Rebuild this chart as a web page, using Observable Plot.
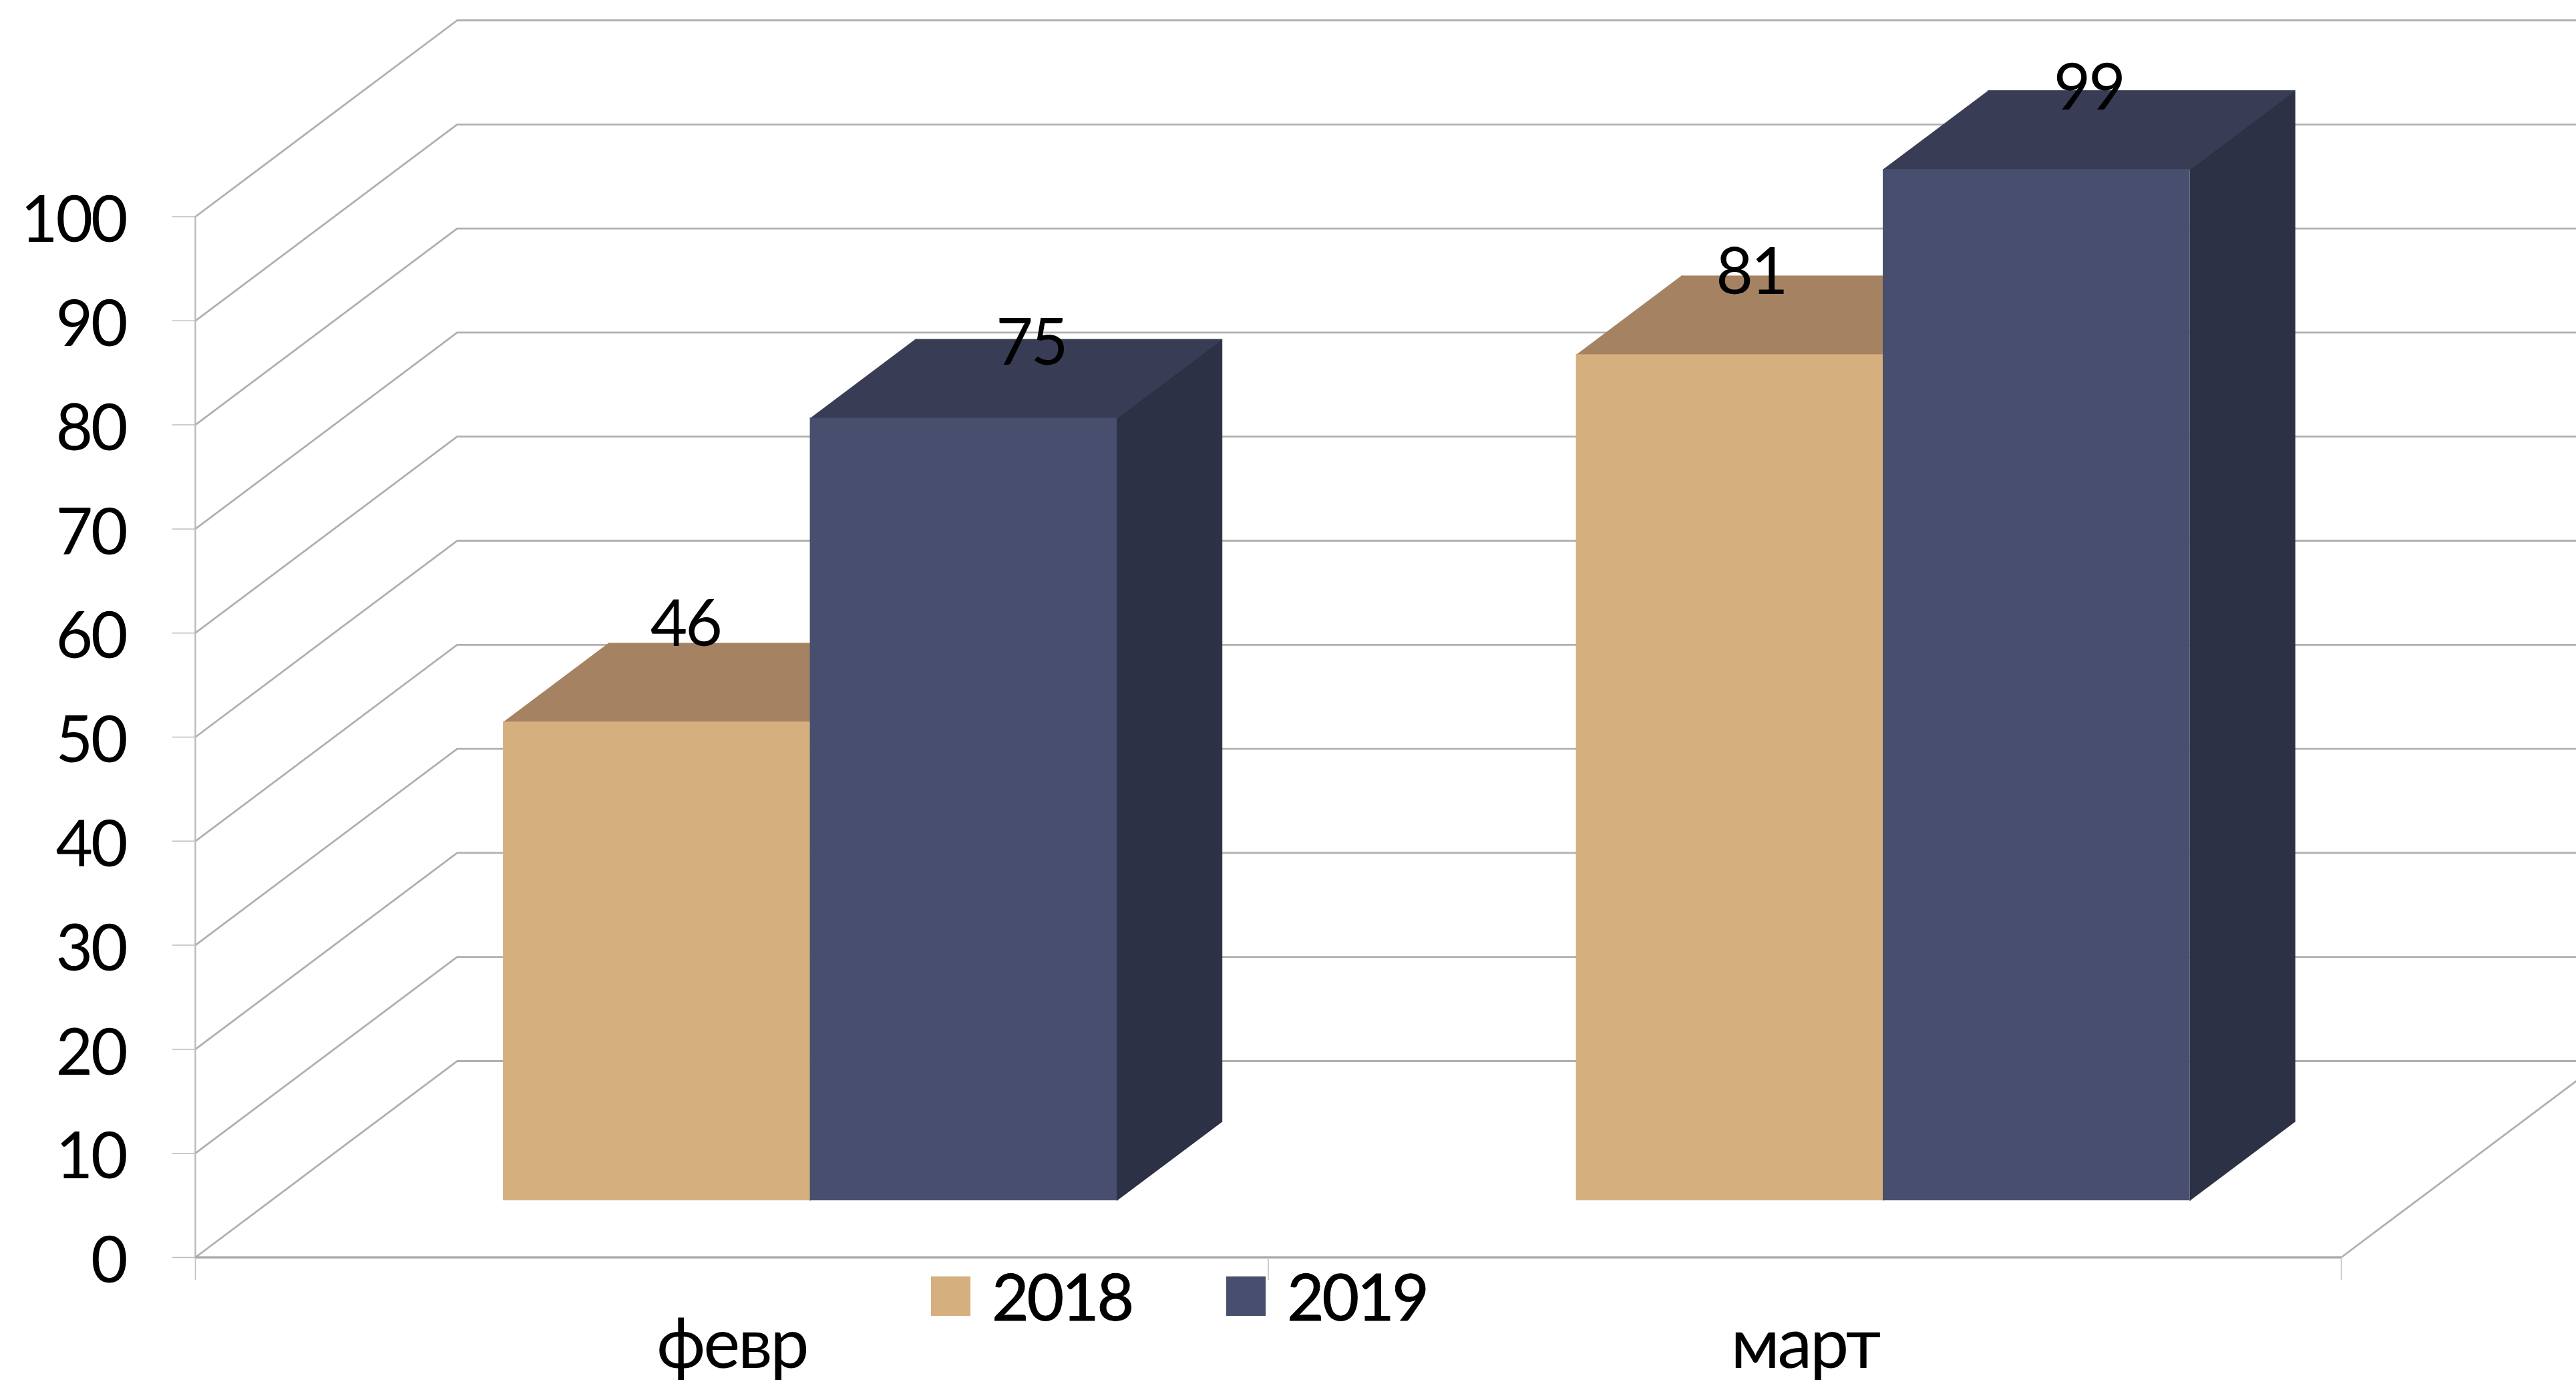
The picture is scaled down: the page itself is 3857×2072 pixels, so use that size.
<!DOCTYPE html>
<html>
<head>
<meta charset="utf-8">
<script src="https://cdn.jsdelivr.net/npm/d3@7"></script>
<script src="https://cdn.jsdelivr.net/npm/@observablehq/plot@0.6"></script>
<style>
  html, body { margin: 0; padding: 0; background: #fff; overflow: hidden; }
  #chart { position: relative; width: 3857px; height: 2072px; font-family: Lato, sans-serif; }
  #chart svg { display: block; }
  #legend { position: absolute; left: 1394px; top: 1892px; display: flex; gap: 141px; align-items: center; font-size: 96px; letter-spacing: -3.2px; color: #000; line-height: 1; -webkit-text-stroke: 1px #000; }
  #legend .item { display: flex; align-items: center; gap: 32px; }
  #legend .sw { width: 59px; height: 59px; display: block; }
</style>
</head>
<body>
<div id="chart"></div>
<script>
// Data: bar heights; labels show them rounded
const categories = ["февр", "март"];
const seriesNames = ["2018", "2019"];
const values2018 = [46, 81.3];
const values2019 = [75.2, 99.1];
const yTicks = [0, 10, 20, 30, 40, 50, 60, 70, 80, 90, 100];

// Data labels nudged as in the original (px)
const labelOffsetX2018 = [45, 34];
const labelOffsetX2019 = [103, 80];
const labelOffsetY2018 = [-145, -122];
const labelOffsetY2019 = [-111, -120];

// Styles
const faceFront = ["#D6AF7E", "#474E6E"];
const faceTop = ["#A58362", "#383C55"];
const faceSide = ["#A58362", "#2D3145"];
const gridColor = "#b0b0b0";
const fontFamily = "Lato, sans-serif";
const fontSize = 96;

// Oblique projection: depth 0..1 in scale units
const depthX = 0.244;
const depthY = 18.87;
const barDepth0 = 0.289;
const barDepth1 = 0.69;
const barStart = 0.2165;
const barWidth = 0.286;

const gridPoints = yTicks.flatMap((v) => [
  {v, x: 0, y: v},
  {v, x: depthX, y: v + depthY},
  {v, x: 2 + depthX, y: v + depthY}
]);

const series = [values2018, values2019];
const offsetsX = [labelOffsetX2018, labelOffsetX2019];
const offsetsY = [labelOffsetY2018, labelOffsetY2019];

function barMarks(s) {
  const rows = series[s].map((value, c) => ({
    value,
    left: c + barStart + s * barWidth,
    right: c + barStart + (s + 1) * barWidth
  }));
  const fx0 = barDepth0 * depthX, fy0 = barDepth0 * depthY;
  const bx0 = barDepth1 * depthX, by0 = barDepth1 * depthY;
  const top = rows.flatMap((r, id) => [
    {id, x: r.left + fx0, y: r.value + fy0},
    {id, x: r.right + fx0, y: r.value + fy0},
    {id, x: r.right + bx0, y: r.value + by0},
    {id, x: r.left + bx0, y: r.value + by0}
  ]);
  const side = rows.flatMap((r, id) => [
    {id, x: r.right + fx0, y: fy0},
    {id, x: r.right + fx0, y: r.value + fy0},
    {id, x: r.right + bx0, y: r.value + by0},
    {id, x: r.right + bx0, y: by0}
  ]);
  return [
    Plot.line(side, {x: "x", y: "y", z: "id", fill: faceSide[s], stroke: faceSide[s], strokeWidth: 1}),
    Plot.line(top, {x: "x", y: "y", z: "id", fill: faceTop[s], stroke: faceTop[s], strokeWidth: 1}),
    Plot.rect(rows, {
      x1: (r) => r.left + fx0,
      x2: (r) => r.right + fx0,
      y1: fy0,
      y2: (r) => r.value + fy0,
      fill: faceFront[s]
    })
  ];
}

function labelMarks(s) {
  return series[s].map((value, c) =>
    Plot.text([value], {
      x: c + barStart + (s + 0.5) * barWidth + barDepth0 * depthX,
      y: (d) => d + barDepth0 * depthY,
      text: (d) => String(Math.round(d)),
      dx: offsetsX[s][c] - 2,
      dy: offsetsY[s][c],
      fontSize,
      fontFamily,
      fill: "#000"
    })
  );
}

const plot = Plot.plot({
  width: 3857,
  height: 2072,
  marginLeft: 292,
  marginRight: 352,
  marginTop: 324,
  marginBottom: 190,
  style: {background: "transparent", letterSpacing: "-3.2px", WebkitTextStroke: "1px #000"},
  x: {domain: [0, 2], axis: null},
  y: {domain: [0, 100], axis: null},
  marks: [
    Plot.line(gridPoints, {x: "x", y: "y", z: "v", stroke: gridColor, strokeWidth: 2.8}),
    Plot.line([{x: 2, y: 0}, {x: 2 + depthX, y: depthY}], {x: "x", y: "y", stroke: gridColor, strokeWidth: 2.8}),
    Plot.ruleX([0], {y1: 0, y2: 100, stroke: "#bdbdbd", strokeWidth: 2.5}),
    Plot.ruleY([0], {x1: 0, x2: 2, stroke: "#a8a8a8", strokeWidth: 3.5}),
    Plot.axisY(yTicks, {anchor: "left", text: null, label: null, tickSize: 34, stroke: "#bdbdbd", strokeWidth: 1.5}),
    Plot.axisY(yTicks, {anchor: "left", tickSize: 0, tickPadding: 104, label: null, dy: 7, fontSize, fontFamily, fill: "#000"}),
    Plot.axisX([0, 1, 2], {anchor: "bottom", text: null, label: null, tickSize: 34, stroke: "#bdbdbd", strokeWidth: 1.5}),
    Plot.axisX([0.5, 1.5], {anchor: "bottom", tickSize: 0, tickPadding: 92, label: null, tickFormat: (d) => categories[d - 0.5], fontSize: 104, fontFamily, fill: "#000"}),
    ...barMarks(0),
    ...barMarks(1),
    ...labelMarks(0),
    ...labelMarks(1)
  ]
});

const chart = document.getElementById("chart");
chart.appendChild(plot);

const legend = document.createElement("div");
legend.id = "legend";
seriesNames.forEach((name, i) => {
  const item = document.createElement("div");
  item.className = "item";
  const sw = document.createElement("span");
  sw.className = "sw";
  sw.style.background = faceFront[i];
  const label = document.createElement("span");
  label.textContent = name;
  item.append(sw, label);
  legend.appendChild(item);
});
chart.appendChild(legend);
</script>
</body>
</html>
